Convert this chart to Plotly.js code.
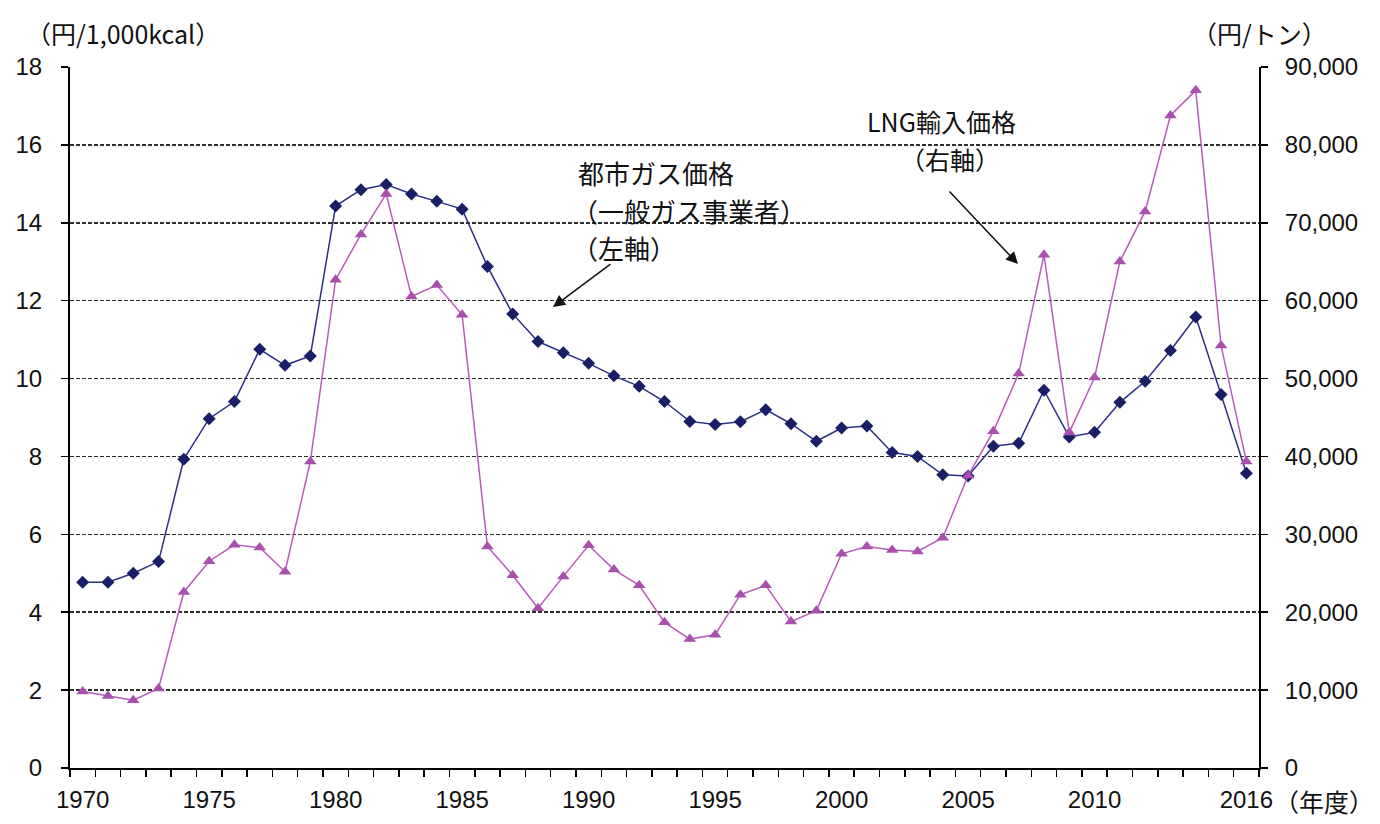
<!DOCTYPE html>
<html>
<head>
<meta charset="utf-8">
<script src="https://cdn.plot.ly/plotly-3.0.1.min.js"></script>
<style>
html,body{margin:0;padding:0;background:#fff;}
#chart{width:1380px;height:824px;}
</style>
</head>
<body>
<div id="chart"></div>
<script>
// ---- data ----
const years = [1970,1971,1972,1973,1974,1975,1976,1977,1978,1979,
               1980,1981,1982,1983,1984,1985,1986,1987,1988,1989,
               1990,1991,1992,1993,1994,1995,1996,1997,1998,1999,
               2000,2001,2002,2003,2004,2005,2006,2007,2008,2009,
               2010,2011,2012,2013,2014,2015,2016];
// 都市ガス価格（一般ガス事業者） 円/1,000kcal（左軸）
const cityGasPrice = [4.77,4.77,5.0,5.3,7.93,8.97,9.41,10.75,10.34,10.58,
                      14.43,14.85,14.98,14.74,14.55,14.35,12.88,11.66,10.95,10.66,
                      10.39,10.07,9.8,9.41,8.9,8.82,8.89,9.2,8.84,8.39,
                      8.73,8.78,8.1,8.0,7.53,7.5,8.26,8.34,9.7,8.5,
                      8.62,9.39,9.93,10.72,11.58,9.59,7.57];
// LNG輸入価格 円/トン（右軸）
const lngImportPrice = [9830,9250,8700,10200,22600,26550,28650,28300,25200,39350,
                        62700,68500,73700,60550,62000,58200,28450,24740,20500,24600,
                        28600,25470,23450,18700,16550,17100,22250,23450,18800,20200,
                        27500,28450,28000,27810,29570,37550,43220,50640,65880,43090,
                        50130,65020,71460,83780,87000,54250,39360];
const xTickVals = [1970,1975,1980,1985,1990,1995,2000,2005,2010,2016];
const xTickText = ['1970','1975','1980','1985','1990','1995','2000','2005','2010','2016'];
const leftTicks = [0,2,4,6,8,10,12,14,16,18];
const rightTicks = [0,10000,20000,30000,40000,50000,60000,70000,80000,90000];
const rightTickText = ['0','10,000','20,000','30,000','40,000','50,000','60,000','70,000','80,000','90,000'];

// ---- layout helpers (pixel -> paper) ----
const W = 1380, H = 824;
const ML = 70, MR = 121, MT = 67, MB = 56;
const PW = W - ML - MR, PH = H - MT - MB;
const px = x => (x - ML) / PW;
const py = y => (H - MB - y) / PH;

const jp = '"Noto Sans CJK JP", "Noto Sans", sans-serif';
const num = '"Liberation Sans", Arial, sans-serif';

const traces = [
  {
    x: years, y: cityGasPrice, yaxis: 'y', type: 'scatter', mode: 'lines+markers',
    name: '都市ガス価格',
    line: {color: '#2B2F86', width: 1.5},
    marker: {symbol: 'diamond', size: 10, color: '#1A1E66'},
    hoverinfo: 'x+y'
  },
  {
    x: years, y: lngImportPrice, yaxis: 'y2', type: 'scatter', mode: 'lines+markers',
    name: 'LNG輸入価格',
    line: {color: '#B65DB9', width: 1.5},
    marker: {symbol: 'triangle-up', size: 11, color: '#AA4FAD'},
    hoverinfo: 'x+y'
  }
];

function txt(text, x, y, anchor, size) {
  return {text: text, xref: 'paper', yref: 'paper', x: px(x), y: py(y),
          xanchor: anchor || 'left', yanchor: 'middle', showarrow: false,
          font: {family: jp, size: size || 26, color: '#111'}};
}
function arrow(hx, hy, tx, ty) {
  return {text: '', xref: 'paper', yref: 'paper', x: px(hx), y: py(hy),
          ax: tx - hx, ay: ty - hy, showarrow: true, arrowhead: 2,
          arrowsize: 1.6, arrowwidth: 1.5, arrowcolor: '#111'};
}

const layout = {
  width: W, height: H,
  margin: {l: ML, r: MR, t: MT, b: MB, pad: 0},
  paper_bgcolor: '#fff', plot_bgcolor: '#fff',
  showlegend: false,
  xaxis: {
    range: [1969.5, 2016.5], tickmode: 'array', tickvals: xTickVals, ticktext: xTickText,
    ticks: '', showgrid: false, zeroline: false,
    showline: true, linecolor: '#000', linewidth: 2,
    tickfont: {family: num, size: 24, color: '#111'},
    ticklabelstandoff: 9,
    minor: {tickmode: 'linear', tick0: 1969.5, dtick: 1, ticks: 'outside', ticklen: 7,
            tickwidth: 1.5, tickcolor: '#000', showgrid: false}
  },
  yaxis: {
    range: [0, 18], tickmode: 'array', tickvals: leftTicks,
    ticks: 'outside', ticklen: 7, tickwidth: 1.5, tickcolor: '#000',
    showline: true, linecolor: '#000', linewidth: 2, zeroline: false,
    showgrid: true, gridcolor: '#2e2e2e', gridwidth: 1.5, griddash: '4px,2px',
    tickfont: {family: num, size: 24, color: '#111'},
    ticklabelstandoff: 14
  },
  yaxis2: {
    range: [0, 90000], overlaying: 'y', side: 'right', tickmode: 'array',
    tickvals: rightTicks, ticktext: rightTickText,
    ticks: 'outside', ticklen: 7, tickwidth: 1.5, tickcolor: '#000',
    showline: true, linecolor: '#000', linewidth: 2, zeroline: false, showgrid: false,
    tickfont: {family: num, size: 24, color: '#111'},
    ticklabelstandoff: 12
  },
  shapes: [
    {type: 'rect', xref: 'paper', yref: 'paper', x0: px(573), x1: px(812), y0: py(265), y1: py(160),
     fillcolor: '#fff', line: {width: 0}, layer: 'between'},
    {type: 'rect', xref: 'paper', yref: 'paper', x0: px(822), x1: px(1077), y0: py(175), y1: py(105),
     fillcolor: '#fff', line: {width: 0}, layer: 'between'}
  ],
  annotations: [
    txt('（円/1,000kcal）', 24, 33, 'left', 25),
    txt('（円/トン）', 1190, 33, 'left', 25),
    txt('（年度）', 1272, 801, 'left', 25),
    txt('都市ガス価格', 576, 172, 'left', 26),
    txt('（一般ガス事業者）', 570, 210, 'left', 26),
    txt('（左軸）', 570, 248, 'left', 26),
    txt('LNG輸入価格', 941, 121, 'center', 25),
    txt('（右軸）', 950, 159, 'center', 25),
    arrow(553, 307, 612, 263),
    arrow(1018, 264, 948, 190)
  ]
};

Plotly.newPlot('chart', traces, layout, {displayModeBar: false, staticPlot: true});
</script>
</body>
</html>
